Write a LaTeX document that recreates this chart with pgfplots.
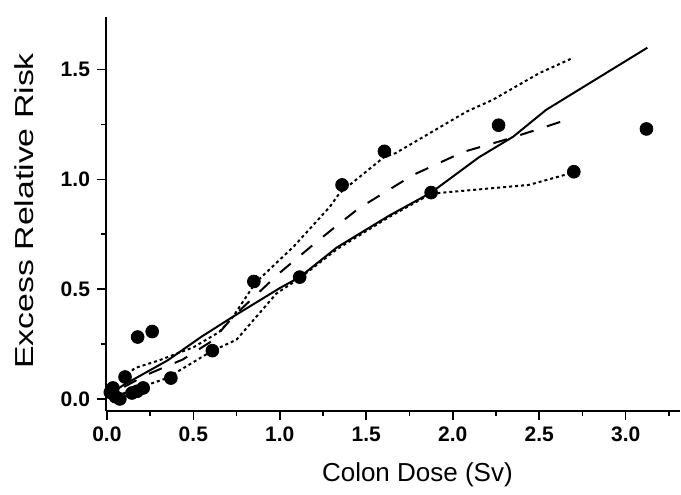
\documentclass[border=0pt]{standalone}
\usepackage{pgfplots}
\pgfplotsset{compat=1.18}
\usepackage{fontspec}
\setmainfont{Liberation Sans}
\begin{document}
\begin{tikzpicture}
\begin{axis}[
  name=ax,
  scale only axis,
  width=287pt, height=197pt,
  xmin=-0.005, xmax=3.314,
  ymin=-0.055, ymax=1.74,
  axis x line=bottom, axis y line=left,
  axis line style={-, line width=1pt},
  xtick={0,0.5,...,3.0},
  ytick={0,0.5,1.0,1.5},
  minor xtick={0.25,0.75,...,3.25},
  minor ytick={0.25,0.75,1.25},
  tick align=outside,
  major tick length=4.5pt, minor tick length=2.5pt,
  tick style={line width=0.8pt, black},
  /pgf/number format/assume math mode=true,
  /pgf/number format/fixed, /pgf/number format/fixed zerofill,
  /pgf/number format/precision=1,
  ticklabel style={font=\fontsize{10.5}{12}\selectfont\bfseries},
  xlabel={Colon Dose (Sv)},
  ylabel={\scalebox{1.3}[1]{Excess Relative Risk}},
  xlabel style={at={(rel axis cs:0.5425,-0.1802)}, anchor=base, font=\fontsize{13}{15}\selectfont},
  ylabel style={at={(rel axis cs:-0.1427,0.508)}, anchor=center, font=\fontsize{13}{15}\selectfont},
  clip=false,
]
% data points
\addplot[only marks, mark=*, mark size=3.2pt, black] coordinates {
 (0.02,0.03) (0.035,0.05) (0.05,0.01) (0.075,0.0) (0.105,0.10)
 (0.145,0.027) (0.175,0.035) (0.21,0.05) (0.178,0.282) (0.262,0.307)
 (0.37,0.095) (0.61,0.22) (0.85,0.535) (1.115,0.555) (1.36,0.975)
 (1.605,1.128) (1.875,0.94) (2.265,1.247) (2.70,1.035) (3.12,1.23)
};
% solid fit
\addplot[black, line width=1pt] coordinates {
 (0,0.015) (0.1,0.065) (0.35,0.175) (0.55,0.285) (0.73,0.375) (1.0,0.505)
 (1.115,0.555) (1.33,0.69) (1.63,0.834) (1.875,0.94) (2.15,1.10)
 (2.35,1.195) (2.54,1.317) (3.125,1.60)
};
% dashed
\addplot[black, line width=1pt, dash pattern=on 7pt off 7pt] coordinates {
 (0.1,0.055) (0.23,0.11) (0.44,0.18) (0.61,0.265) (0.73,0.375) (1.0,0.575)
 (1.18,0.694) (1.33,0.79) (1.46,0.87) (1.77,1.02) (2.06,1.125) (2.3,1.18)
 (2.5,1.23) (2.69,1.28)
};
% upper dotted
\addplot[black, line width=1pt, dash pattern=on 1.5pt off 1.5pt] coordinates {
 (0.12,0.11) (0.16,0.14) (0.3,0.175) (0.5,0.235) (0.65,0.305) (0.73,0.375)
 (0.86,0.53) (1.08,0.694) (1.29,0.876) (1.345,0.937) (1.6,1.10) (1.67,1.12)
 (2.08,1.309) (2.23,1.362) (2.5,1.484) (2.69,1.552)
};
% lower dotted
\addplot[black, line width=1pt, dash pattern=on 1.5pt off 1.5pt] coordinates {
 (0.06,0.015) (0.2,0.055) (0.345,0.094) (0.6,0.215) (0.75,0.27) (0.98,0.48)
 (1.115,0.55) (1.33,0.682) (1.63,0.828) (1.875,0.935) (2.44,0.975) (2.70,1.032)
};
\end{axis}
\path (ax.south west) ++(-53pt,-38pt);
\path (ax.north east) ++(0pt,8.5pt);
\end{tikzpicture}
\end{document}
